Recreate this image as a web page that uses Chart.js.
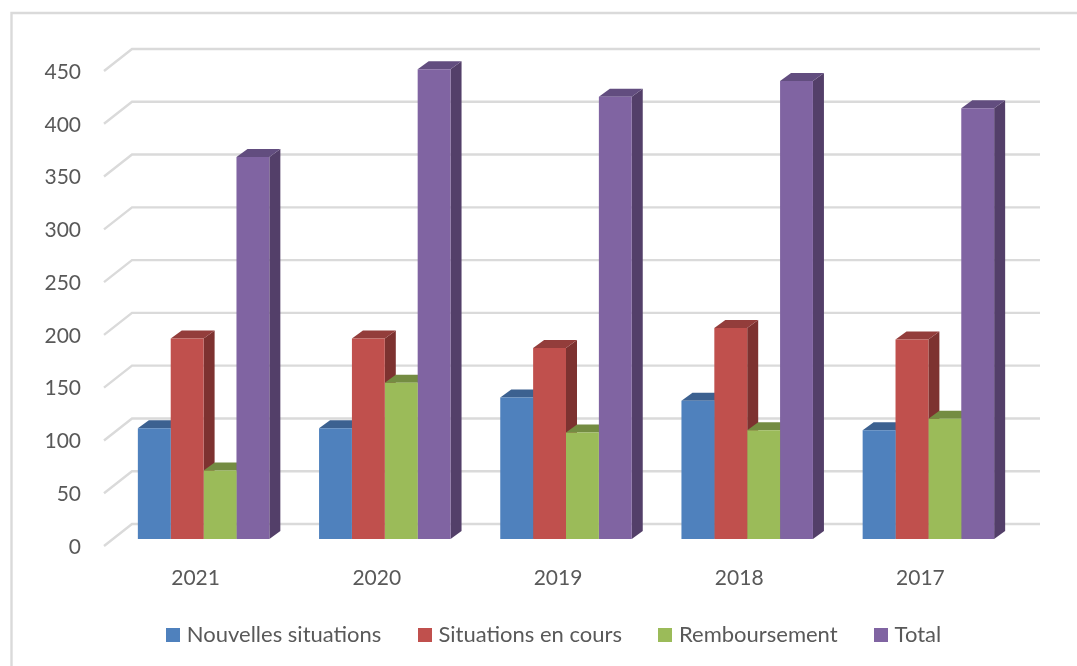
<!DOCTYPE html>
<html>
<head>
<meta charset="utf-8">
<script src="https://cdn.jsdelivr.net/npm/chart.js@4"></script>
<style>
  html, body { margin: 0; background: #fff; }
  canvas { display: block; }
</style>
</head>
<body>
<canvas id="chart" width="1077" height="666"></canvas>
<script>
const categories = ['2021', '2020', '2019', '2018', '2017'];
const nouvelles = [105, 105, 134, 131, 103];
const enCours = [190, 190, 181, 200, 189];
const remboursement = [65, 148, 101, 103, 114];
const total = [362, 445, 419, 434, 408];
const yTicks = [0, 50, 100, 150, 200, 250, 300, 350, 400, 450];

const AXIS_FONT = { family: 'Lato', size: 21 };
const LEGEND_FONT = { family: 'Lato', size: 22 };
const TEXT = '#595959';
const GRID = '#dadada';
const DX = 11, DY = 8; // bar depth

// legend swatch, wider than boxWidth so the text sits closer to it
function swatch(color) {
  const c = document.createElement('canvas');
  c.width = 14; c.height = 14;
  const g = c.getContext('2d');
  g.fillStyle = color;
  g.fillRect(0, 0, 14, 14);
  return c;
}

function series(label, data, front, top, side) {
  return { label, data, backgroundColor: front, topColor: top, sideColor: side,
           pointStyle: swatch(front), borderWidth: 0 };
}

const depth3d = {
  id: 'depth3d',
  afterLayout(chart) {
    // the legend is off-centre in the reference and lower than its padding allows
    chart.legend.left += 93;
    chart.legend.top = 583;
  },
  beforeDatasetsDraw(chart) {
    const ctx = chart.ctx, y = chart.scales.y;
    ctx.save();
    // frame
    ctx.strokeStyle = GRID;
    ctx.lineWidth = 2.4;
    ctx.beginPath();
    ctx.moveTo(11.5, 666); ctx.lineTo(11.5, 13); ctx.lineTo(1077, 13);
    ctx.stroke();
    // back wall + left wall grid
    yTicks.forEach(v => {
      const py = y.getPixelForValue(v);
      ctx.beginPath();
      ctx.moveTo(104, py + 7);
      ctx.lineTo(132, py - 15);
      ctx.lineTo(1040, py - 15);
      ctx.stroke();
    });
    // side and top faces, the fronts come after
    chart.data.datasets.forEach((ds, i) => {
      chart.getDatasetMeta(i).data.forEach(bar => {
        const l = bar.x - bar.width / 2, r = bar.x + bar.width / 2;
        ctx.fillStyle = ds.sideColor;
        ctx.beginPath();
        ctx.moveTo(r, bar.y); ctx.lineTo(r + DX, bar.y - DY);
        ctx.lineTo(r + DX, bar.base - DY); ctx.lineTo(r, bar.base);
        ctx.closePath(); ctx.fill();
        ctx.fillStyle = ds.topColor;
        ctx.beginPath();
        ctx.moveTo(l, bar.y); ctx.lineTo(l + DX, bar.y - DY);
        ctx.lineTo(r + DX, bar.y - DY); ctx.lineTo(r, bar.y);
        ctx.closePath(); ctx.fill();
      });
    });
    ctx.restore();
  }
};

new Chart(document.getElementById('chart'), {
  type: 'bar',
  plugins: [depth3d],
  data: {
    labels: categories,
    datasets: [
      series('Nouvelles situations', nouvelles, '#4f81bd', '#3c6190', '#345579'),
      series('Situations en cours', enCours, '#c0504d', '#933d3b', '#7d3230'),
      series('Remboursement', remboursement, '#9bbb59', '#748c42', '#657a3a'),
      series('Total', total, '#8064a2', '#624d7f', '#533f69')
    ]
  },
  options: {
    responsive: false,
    animation: false,
    layout: { padding: { left: 0, right: 58, top: 64, bottom: 0 } },
    datasets: { bar: { categoryPercentage: 0.7257, barPercentage: 1 } },
    scales: {
      x: {
        grid: { display: false, drawTicks: false },
        border: { display: false },
        ticks: { color: TEXT, font: AXIS_FONT, padding: 27, labelOffset: -8, maxRotation: 0 },
        afterFit(s) { s.height = 54; }
      },
      y: {
        min: 0, max: 450,
        afterBuildTicks(s) { s.ticks = yTicks.map(value => ({ value })); },
        grid: { display: false, drawTicks: false },
        border: { display: false },
        ticks: { color: TEXT, font: AXIS_FONT, padding: 32, labelOffset: 8 },
        afterFit(s) { s.width = 113; }
      }
    },
    plugins: {
      tooltip: { enabled: false },
      legend: {
        position: 'bottom',
        labels: { color: TEXT, font: LEGEND_FONT, usePointStyle: true, boxWidth: 5, boxHeight: 14, padding: 41 }
      }
    }
  }
});
</script>
</body>
</html>
